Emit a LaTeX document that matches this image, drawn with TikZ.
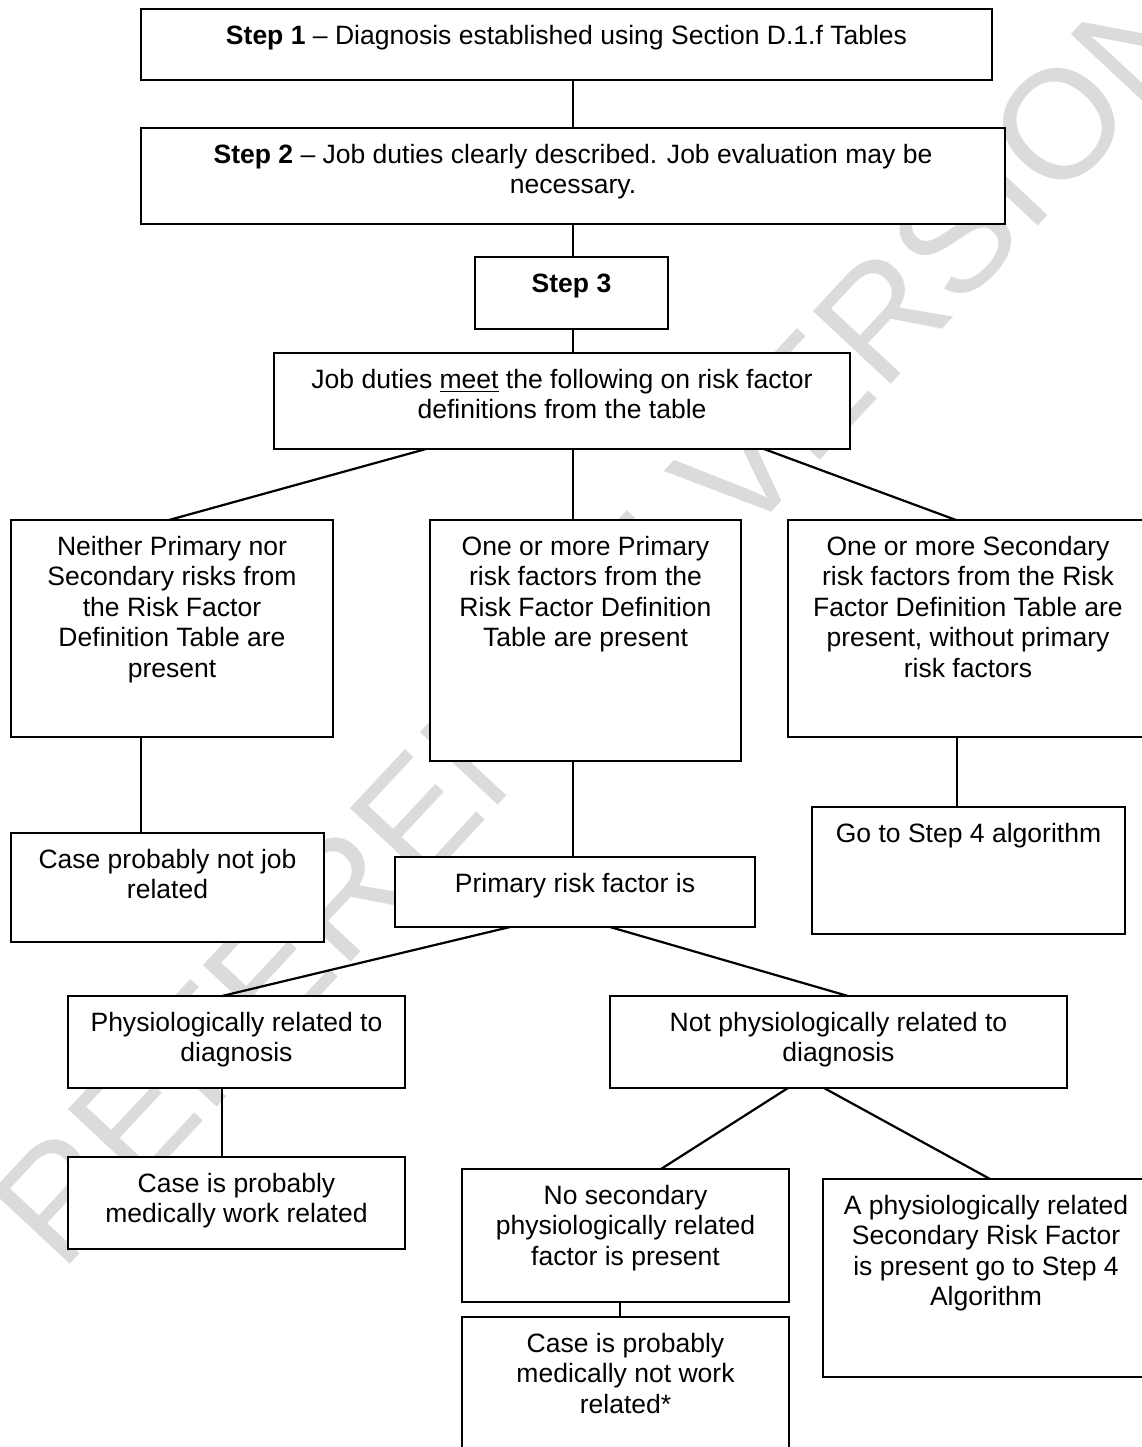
\documentclass[tikz,border=0pt]{standalone}
\usepackage{fontspec}
\setmainfont{Liberation Sans}
\usetikzlibrary{calc}

\newlength{\pxu}
\setlength{\pxu}{0.4525pt}
% text sits at the top of each box, as in the original
\newcommand{\boxtext}[3]{\parbox[t][#2\pxu][t]{#1\pxu}{\centering\vspace*{6.2pt}\strut #3}}

\begin{document}
\begin{tikzpicture}[x=0.4525pt, y=-0.4525pt]
        \tikzstyle{stepbox}=[draw, fill=white, line width=1pt, inner sep=0pt, outer sep=0pt, anchor=north west, font=\fontsize{12}{13.8}\selectfont]
        \tikzstyle{link}=[line width=1pt]
        \tikzstyle{wmark}=[black!14, rotate=47, font=\fontsize{70}{70}\selectfont]
        \useasboundingbox (0,0) rectangle (1142,1447);
        \clip (0,0) rectangle (1142,1447);
        \node[wmark] (wm) at (600,618) {REFERENCE VERSION};
        % steps
        \node[stepbox] (s1) at (141,9) {\boxtext{851}{71}{\textbf{Step 1} -- Diagnosis established using Section D.1.f Tables}};
        \node[stepbox] (s2) at (141,128) {\boxtext{864}{96}{\textbf{Step 2} -- Job duties clearly described. Job evaluation may be\\ necessary.}};
        \node[stepbox] (s3) at (475,257) {\boxtext{193}{72}{\textbf{Step 3}}};
        \node[stepbox] (s4) at (274,353) {\boxtext{576}{96}{Job duties \underline{meet} the following on risk factor\\ definitions from the table}};
        % risk factor outcomes
        \node[stepbox] (n1) at (11,520) {\boxtext{322}{217}{Neither Primary nor\\ Secondary risks from\\ the Risk Factor\\ Definition Table are\\ present}};
        \node[stepbox] (n2) at (430,520) {\boxtext{311}{241}{One or more Primary\\ risk factors from the\\ Risk Factor Definition\\ Table are present}};
        \node[stepbox] (n3) at (788,520) {\boxtext{360}{217}{One or more Secondary\\ risk factors from the Risk\\ Factor Definition Table are\\ present, without primary\\ risk factors}};
        \node[stepbox] (c1) at (11,833) {\boxtext{313}{109}{Case probably not job\\ related}};
        \node[stepbox] (p1) at (395,857) {\boxtext{360}{70}{Primary risk factor is}};
        \node[stepbox] (g4) at (812,807) {\boxtext{313}{127}{Go to Step 4 algorithm}};
        % primary risk factor
        \node[stepbox] (ph) at (68,996) {\boxtext{337}{92}{Physiologically related to\\ diagnosis}};
        \node[stepbox] (np) at (610,996) {\boxtext{457}{92}{Not physiologically related to\\ diagnosis}};
        \node[stepbox] (cw) at (68,1157) {\boxtext{337}{92}{Case is probably\\ medically work related}};
        \node[stepbox] (ns) at (462,1169) {\boxtext{327}{133}{No secondary\\ physiologically related\\ factor is present}};
        \node[stepbox] (ap) at (823,1179) {\boxtext{326}{198}{A physiologically related\\ Secondary Risk Factor\\ is present go to Step 4\\ Algorithm}};
        \node[stepbox] (cn) at (462,1317) {\boxtext{327}{160}{Case is probably\\ medically not work\\ related*}};
        % connectors
        \draw[link] (s2.north) -- (s2.north |- s1.south);
        \draw[link] (s2.south) -- (s2.south |- s3.north);
        \draw[link] (s2.south |- s3.south) -- (s2.south |- s4.north);
        \draw[link] ($(s4.south west)+(152,0)$) -- ($(n1.north west)+(158,0)$);
        \draw[link] (s2.south |- s4.south) -- (s2.south |- n2.north);
        \draw[link] ($(s4.south west)+(490,0)$) -- ($(n3.north west)+(168,0)$);
        \draw[link] ($(n1.south west)+(130,0)$) -- ($(c1.north west)+(130,0)$);
        \draw[link] (s2.south |- n2.south) -- (s2.south |- p1.north);
        \draw[link] ($(n3.south west)+(169,0)$) -- ($(g4.north west)+(145,0)$);
        \draw[link] ($(p1.south west)+(115,0)$) -- ($(ph.north west)+(154,0)$);
        \draw[link] ($(p1.south west)+(215,0)$) -- ($(np.north west)+(238,0)$);
        \draw[link] ($(ph.south west)+(154,0)$) -- ($(cw.north west)+(154,0)$);
        \draw[link] ($(np.south west)+(178,0)$) -- ($(ns.north west)+(199,0)$);
        \draw[link] ($(np.south west)+(214,0)$) -- ($(ap.north west)+(167,0)$);
        \draw[link] ($(ns.south west)+(158,0)$) -- ($(cn.north west)+(158,0)$);
      \end{tikzpicture}
\end{document}
